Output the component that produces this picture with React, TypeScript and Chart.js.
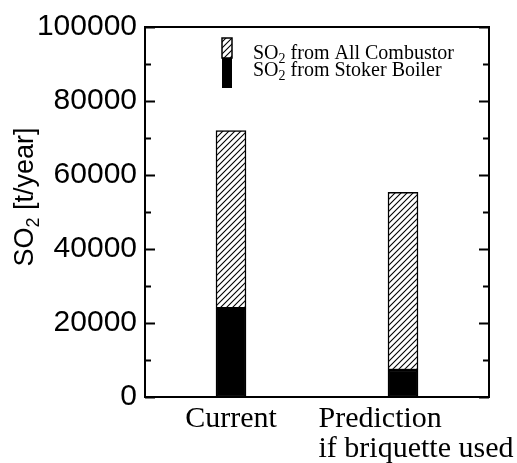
import React, { useEffect, useRef } from 'react';
import { Chart, registerables } from 'chart.js';

Chart.register(...registerables);

// ---- data ----
const categories: string[][] = [['Current'], ['Prediction', 'if briquette used']];
const stokerBoiler = [24000, 7300];
const allCombustor = [72000, 55300];
const yTickLabels = [0, 20000, 40000, 60000, 80000, 100000];
const seriesLabels = ['SO₂ from All Combustor', 'SO₂ from Stoker Boiler'];
const yTitle = 'SO₂ [t/year]';

const SUBS = '₀₁₂₃₄₅₆₇₈₉';

function richSegments(text: string) {
  const segs: { t: string; sub: boolean }[] = [];
  for (const ch of text) {
    const idx = SUBS.indexOf(ch);
    const sub = idx >= 0;
    const c = sub ? String(idx) : ch;
    const last = segs[segs.length - 1];
    if (last && last.sub === sub) last.t += c;
    else segs.push({ t: c, sub });
  }
  return segs;
}

function measureRich(ctx: CanvasRenderingContext2D, text: string, size: number, family: string) {
  let w = 0;
  for (const s of richSegments(text)) {
    ctx.font = `${s.sub ? Math.round(size * 0.68) : size}px ${family}`;
    w += ctx.measureText(s.t).width;
  }
  return w;
}

function drawRich(ctx: CanvasRenderingContext2D, text: string, x: number, y: number, size: number, family: string) {
  let cx = x;
  ctx.textAlign = 'left';
  ctx.textBaseline = 'alphabetic';
  for (const s of richSegments(text)) {
    ctx.font = `${s.sub ? Math.round(size * 0.68) : size}px ${family}`;
    ctx.fillText(s.t, cx, s.sub ? y + size * 0.22 : y);
    cx += ctx.measureText(s.t).width;
  }
}

function makeHatch(ctx: CanvasRenderingContext2D) {
  const c = document.createElement('canvas');
  const s = 6;
  c.width = s;
  c.height = s;
  const g = c.getContext('2d')!;
  g.fillStyle = '#fff';
  g.fillRect(0, 0, s, s);
  g.strokeStyle = '#000';
  g.lineWidth = 1.1;
  g.beginPath();
  g.moveTo(0, s);
  g.lineTo(s, 0);
  g.moveTo(-1, 1);
  g.lineTo(1, -1);
  g.moveTo(s - 1, s + 1);
  g.lineTo(s + 1, s - 1);
  g.stroke();
  return ctx.createPattern(c, 'repeat')!;
}

export default function App() {
  const ref = useRef<HTMLCanvasElement | null>(null);

  useEffect(() => {
    const canvas = ref.current!;
    const ctx0 = canvas.getContext('2d')!;
    const hatch = makeHatch(ctx0);

    const decor = {
      id: 'decor',
      afterDatasetsDraw(chart: any) {
        const { ctx, chartArea: a, scales } = chart;
        const ys = scales.y;
        const xs = scales.x;
        ctx.save();
        ctx.strokeStyle = '#000';
        ctx.fillStyle = '#000';

        // frame
        ctx.lineWidth = 2;
        ctx.strokeRect(a.left, a.top, a.right - a.left, a.bottom - a.top);

        // inward ticks left & right
        ctx.lineWidth = 2;
        for (const t of ys.ticks) {
          const py = Math.round(ys.getPixelForValue(t.value)) + 0.5;
          const major = yTickLabels.includes(t.value);
          const len = major ? 10 : 6;
          ctx.beginPath();
          ctx.moveTo(a.left, py);
          ctx.lineTo(a.left + len, py);
          ctx.moveTo(a.right, py);
          ctx.lineTo(a.right - len, py);
          ctx.stroke();
        }

        // y title (rotated)
        const tSize = 27;
        const tFam = '"Liberation Sans", Arial, sans-serif';
        const tw = measureRich(ctx, yTitle, tSize, tFam);
        ctx.save();
        ctx.translate(a.left - 112, (a.top + a.bottom) / 2 - 15);
        ctx.rotate(-Math.PI / 2);
        drawRich(ctx, yTitle, -tw / 2, 0, tSize, tFam);
        ctx.restore();

        // legend
        const lx = a.left + 77;
        const ly = a.top + 11;
        ctx.lineWidth = 1.5;
        ctx.fillStyle = hatch;
        ctx.fillRect(lx, ly, 10, 20);
        ctx.strokeRect(lx, ly, 10, 20);
        ctx.fillStyle = '#000';
        ctx.fillRect(lx, ly + 20, 10, 30);
        const lFam = '"Liberation Serif", "Times New Roman", serif';
        drawRich(ctx, seriesLabels[0], a.left + 108, a.top + 32, 20, lFam);
        drawRich(ctx, seriesLabels[1], a.left + 108, a.top + 49, 20, lFam);

        // x labels: left-aligned text block centred under each category
        ctx.font = '30px "Liberation Serif", "Times New Roman", serif';
        ctx.textAlign = 'left';
        ctx.textBaseline = 'alphabetic';
        categories.forEach((lines, i) => {
          const px = xs.getPixelForValue(i);
          const maxW = Math.max(...lines.map((l) => ctx.measureText(l).width));
          const left = px - maxW / 2 + (lines.length > 1 ? 13 : 0);
          lines.forEach((l, j) => {
            ctx.fillText(l, left, a.bottom + 30 + j * 30);
          });
        });

        ctx.restore();
      },
    };

    const chart = new Chart(canvas, {
      type: 'bar',
      data: {
        labels: categories as any,
        datasets: [
          {
            label: seriesLabels[1],
            data: stokerBoiler,
            backgroundColor: '#000',
            borderColor: '#000',
            borderWidth: 1.5,
            borderSkipped: false,
            barThickness: 30,
          },
          {
            label: seriesLabels[0],
            data: stokerBoiler.map((s, i) => [s, allCombustor[i]]) as any,
            backgroundColor: hatch as any,
            borderColor: '#000',
            borderWidth: 1.5,
            borderSkipped: false,
            barThickness: 30,
          },
        ],
      },
      options: {
        responsive: false,
        animation: false,
        devicePixelRatio: 1,
        layout: { padding: { left: 8, right: 28, top: 27, bottom: 66 } },
        plugins: {
          legend: { display: false },
          tooltip: { enabled: false },
        },
        scales: {
          x: {
            stacked: true,
            ticks: { display: false },
            grid: { display: false, drawTicks: false },
            border: { display: false },
            afterFit: (s: any) => {
              s.height = 0;
            },
          },
          y: {
            stacked: false,
            min: 0,
            max: 100000,
            ticks: {
              stepSize: 10000,
              autoSkip: false,
              padding: 8,
              color: '#000',
              font: { family: '"Liberation Sans", Arial, sans-serif', size: 30 },
              callback: (v: any) => (yTickLabels.includes(Number(v)) ? String(v) : ''),
            },
            grid: { display: false, drawTicks: false },
            border: { display: false },
            afterFit: (s: any) => {
              s.width = 137;
            },
          },
        },
      },
      plugins: [decor],
    });

    return () => chart.destroy();
  }, []);

  return (
    <div style={{ position: 'fixed', left: 0, top: 0, width: 517, height: 463, background: '#fff' }}>
      <canvas ref={ref} width={517} height={463} />
    </div>
  );
}
